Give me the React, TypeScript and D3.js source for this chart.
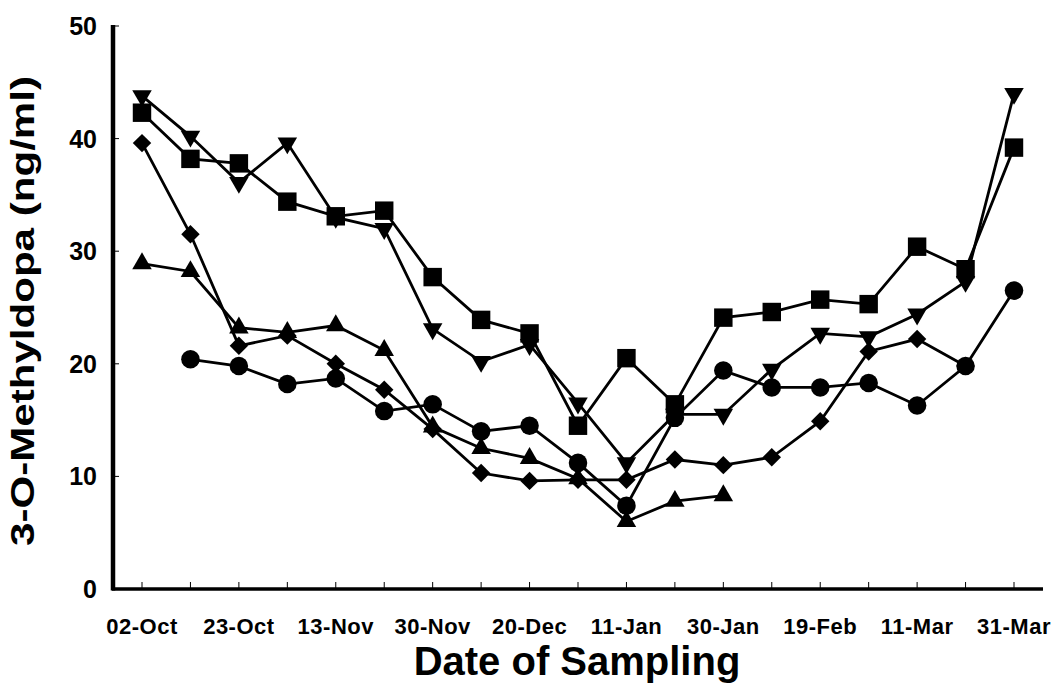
import { useRef, useEffect } from "react";
import * as d3 from "d3";

// sampling dates, one every position; only every other one is labelled
const tickLabels = [
  "02-Oct", "", "23-Oct", "", "13-Nov", "", "30-Nov", "", "20-Dec", "",
  "11-Jan", "", "30-Jan", "", "19-Feb", "", "11-Mar", "", "31-Mar",
];
const yTicks = [0, 10, 20, 30, 40, 50];

// series values (ng/ml), null = not sampled
const squareVals = [42.3, 38.2, 37.8, 34.4, 33.1, 33.6, 27.7, 23.9, 22.7, 14.5, 20.5, 16.4, 24.1, 24.6, 25.7, 25.3, 30.4, 28.4, 39.2];
const downTriVals = [43.8, 40.2, 36.1, 39.6, 33.0, 32.0, 23.1, 20.2, 21.7, 16.5, 11.2, 15.5, 15.5, 19.5, 22.7, 22.4, 24.4, 27.3, 44.0];
const upTriVals = [28.9, 28.2, 23.2, 22.8, 23.4, 21.2, 14.4, 12.5, 11.6, 9.8, 6.0, 7.8, 8.3];
const circleVals = [null, 20.4, 19.8, 18.2, 18.7, 15.8, 16.4, 14.0, 14.5, 11.2, 7.4, 15.2, 19.4, 17.9, 17.9, 18.3, 16.3, 19.8, 26.5];
const diamondVals = [39.6, 31.5, 21.6, 22.5, 20.0, 17.7, 14.2, 10.3, 9.6, 9.7, 9.7, 11.5, 11.0, 11.7, 14.9, 21.1, 22.2, 19.8];

const series = [
  { name: "diamond", values: diamondVals, type: d3.symbolSquare, size: 170, rotate: 45 },
  { name: "circle", values: circleVals, type: d3.symbolCircle, size: 270, rotate: 0 },
  { name: "upTri", values: upTriVals, type: d3.symbolTriangle, size: 165, rotate: 0 },
  { name: "downTri", values: downTriVals, type: d3.symbolTriangle, size: 165, rotate: 180 },
  { name: "square", values: squareVals, type: d3.symbolSquare, size: 340, rotate: 0 },
];

function App() {
  const chartRef = useRef(null);

  useEffect(() => {
    const width = 1053;
    const height = 685;
    const font = "Liberation Sans, Arial, sans-serif";

    d3.select(chartRef.current).selectAll("*").remove();

    const svg = d3
      .select(chartRef.current)
      .append("svg")
      .attr("width", width)
      .attr("height", height)
      .style("display", "block")
      .style("background", "#fff");

    const xScale = d3
      .scalePoint()
      .domain(tickLabels.map((d, i) => i))
      .range([142, 1014]);

    const yScale = d3.scaleLinear().domain([0, 50]).range([589, 26]);

    // plot lines + markers
    series.forEach((s) => {
      const pts = s.values
        .map((v, i) => ({ i, v }))
        .filter((d) => d.v !== null);

      const line = d3
        .line()
        .x((d) => xScale(d.i))
        .y((d) => yScale(d.v));

      svg
        .append("path")
        .datum(pts)
        .attr("d", line)
        .attr("fill", "none")
        .attr("stroke", "#000")
        .attr("stroke-width", 2.8);

      const sym = d3.symbol().type(s.type).size(s.size);
      svg
        .append("g")
        .selectAll("path")
        .data(pts)
        .join("path")
        .attr("d", sym)
        .attr(
          "transform",
          (d) => `translate(${xScale(d.i)},${yScale(d.v)}) rotate(${s.rotate})`
        )
        .attr("fill", "#000");
    });

    // x axis
    const xAxis = svg.append("g");
    xAxis
      .append("line")
      .attr("x1", 112)
      .attr("x2", 1043)
      .attr("y1", yScale(0))
      .attr("y2", yScale(0))
      .attr("stroke", "#000")
      .attr("stroke-width", 3.5);
    xAxis
      .selectAll(".tick")
      .data(tickLabels.map((d, i) => i))
      .join("line")
      .attr("x1", (d) => xScale(d))
      .attr("x2", (d) => xScale(d))
      .attr("y1", yScale(0))
      .attr("y2", yScale(0) - 7)
      .attr("stroke", "#000")
      .attr("stroke-width", 1);
    xAxis
      .selectAll("text")
      .data(tickLabels.map((d, i) => ({ d, i })).filter((t) => t.d !== ""))
      .join("text")
      .attr("x", (t) => xScale(t.i))
      .attr("y", 634)
      .attr("text-anchor", "middle")
      .style("font-family", font)
      .style("font-weight", "bold")
      .style("font-size", "22px")
      .style("letter-spacing", "0.5px")
      .text((t) => t.d);

    // y axis
    const yAxis = svg.append("g");
    yAxis
      .append("line")
      .attr("x1", 113)
      .attr("x2", 113)
      .attr("y1", 25)
      .attr("y2", yScale(0) + 1.5)
      .attr("stroke", "#000")
      .attr("stroke-width", 4.5);
    yAxis
      .selectAll(".tick")
      .data(yTicks)
      .join("line")
      .attr("x1", 113)
      .attr("x2", 119)
      .attr("y1", (d) => yScale(d))
      .attr("y2", (d) => yScale(d))
      .attr("stroke", "#000")
      .attr("stroke-width", 1);
    yAxis
      .selectAll("text")
      .data(yTicks)
      .join("text")
      .attr("x", 97)
      .attr("y", (d) => yScale(d))
      .attr("dy", "0.36em")
      .attr("text-anchor", "end")
      .style("font-family", font)
      .style("font-weight", "bold")
      .style("font-size", "25px")
      .text((d) => d);

    // axis titles
    svg
      .append("text")
      .attr("transform", "translate(34, 311) rotate(-90)")
      .attr("text-anchor", "middle")
      .attr("textLength", 470)
      .attr("lengthAdjust", "spacingAndGlyphs")
      .style("font-family", font)
      .style("font-weight", "bold")
      .style("font-size", "33px")
      .text("3-O-Methyldopa (ng/ml)");

    svg
      .append("text")
      .attr("x", 577)
      .attr("y", 675)
      .attr("text-anchor", "middle")
      .style("font-family", font)
      .style("font-weight", "bold")
      .style("font-size", "40px")
      .text("Date of Sampling");
  }, []);

  return (
    <div
      ref={chartRef}
      style={{ position: "absolute", left: 0, top: 0, width: 1053, height: 685 }}
    ></div>
  );
}

export default App;
